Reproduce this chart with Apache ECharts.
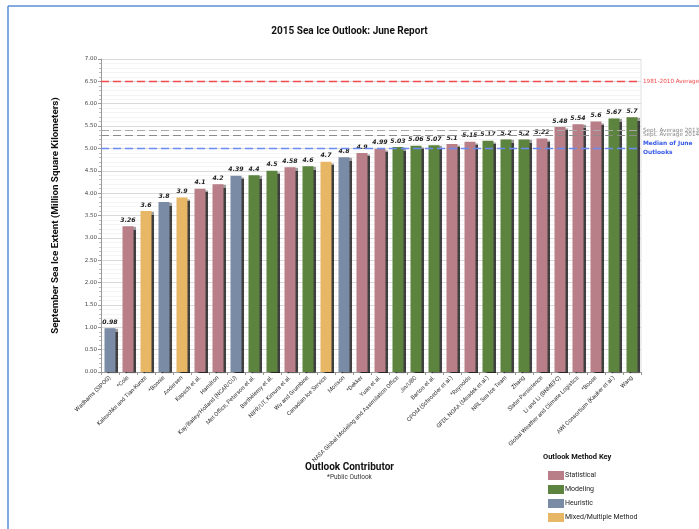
<!DOCTYPE html>
<html>
<head>
<meta charset="utf-8">
<script src="https://cdn.jsdelivr.net/npm/echarts@6/dist/echarts.min.js"></script>
<style>
html,body{margin:0;padding:0;background:#fff;}
#chart{width:699px;height:529px;}
</style>
</head>
<body>
<div id="chart"></div>
<script>
// ---- data ----
const categories = [
  "Wadhams (SIPOG)", "*Cole", "Kaleschke and Tian-Kunze", "*Bonnie", "Andersen",
  "Kapsch et al.", "Hamilton", "Kay/Bailey/Holland (NCAR/CU)", "Met Office, Peterson et al.",
  "Barthélemy et al.", "NIPR/UT, Kimura et al.", "Wu and Grumbine", "Canadian Ice Service",
  "Morison", "*Dekker", "Yuan et al.", "NASA Global Modeling and Assimilation Office",
  "Jin/UBC", "Barton et al.", "CPOM (Schroeder et al.)", "*Reynolds",
  "GFDL NOAA (Msadek et al.)", "NRL Sea Ice Team", "Zhang", "Slater-Persistence",
  "Li and Li (BNMEFC)", "Global Weather and Climate Logistics", "*Boose",
  "AWI Consortium (Kauker et al.)", "Wang"
];
const values = [
  0.98, 3.26, 3.6, 3.8, 3.9, 4.1, 4.2, 4.39, 4.4, 4.5, 4.58, 4.6, 4.7, 4.8, 4.9,
  4.99, 5.03, 5.06, 5.07, 5.1, 5.15, 5.17, 5.2, 5.2, 5.22, 5.48, 5.54, 5.6, 5.67, 5.7
];
// 0 Statistical, 1 Modeling, 2 Heuristic, 3 Mixed/Multiple Method
const methodIndex = [
  2, 0, 3, 2, 3, 0, 0, 2, 1, 1, 0, 1, 3, 2, 0,
  0, 1, 1, 1, 0, 0, 1, 1, 1, 0, 0, 0, 0, 1, 1
];
const methodNames = ["Statistical", "Modeling", "Heuristic", "Mixed/Multiple Method"];
const refValues = [6.5, 5.4, 5.3, 5.0];
const refLabels = ["1981-2010 Average", "Sept. Average 2013", "Sept. Average 2014", "Median of June\nOutlooks"];
const yTicks = [0, 0.5, 1, 1.5, 2, 2.5, 3, 3.5, 4, 4.5, 5, 5.5, 6, 6.5, 7];

// ---- styles ----
const methodColors = ["#b97f88", "#5c843f", "#7a8ba6", "#e8b765"];
const refStyles = [
  {color: "#f24a4a", width: 1.4, label: {color: "#f24a4a", fontWeight: "normal", padding: [0,0,0,0]}},
  {color: "#a8a8a8", width: 1.2, label: {color: "#888", fontWeight: "normal", padding: [0,0,4,0]}},
  {color: "#8c8c8c", width: 1.2, label: {color: "#888", fontWeight: "normal", padding: [7,0,0,0]}},
  {color: "#6a8cf2", width: 1.4, label: {color: "#3658e6", fontWeight: "bold", padding: [9,0,0,0]}}
];

const chart = echarts.init(document.getElementById('chart'));

const markData = refValues.map((v, i) => ({
  yAxis: v,
  lineStyle: {color: refStyles[i].color, width: refStyles[i].width, type: [8, 4]},
  label: Object.assign({
    show: true, position: 'end', formatter: refLabels[i], distance: 2,
    fontSize: i === 3 ? 5.9 : 5.7, fontFamily: 'DejaVu Sans', lineHeight: 9
  }, refStyles[i].label)
}));

const series = methodNames.map((name, m) => ({
  name: name,
  type: 'bar',
  stack: 'all',
  barWidth: 11,
  data: values.map((v, i) => methodIndex[i] === m ? v : '-'),
  itemStyle: {
    color: methodColors[m],
    shadowColor: 'rgba(0,0,0,0.75)',
    shadowOffsetX: 2,
    shadowOffsetY: 1,
    shadowBlur: 1
  },
  label: {
    show: true, position: 'top', distance: 3,
    fontSize: 6.2, fontWeight: 'bold', fontStyle: 'italic',
    fontFamily: 'DejaVu Sans', color: '#222',
    formatter: p => String(p.value)
  },
  markLine: m === 0 ? {symbol: 'none', silent: true, animation: false, data: markData} : undefined,
  z: 3
}));

chart.setOption({
  animation: false,
  backgroundColor: '#fff',
  title: {
    text: '2015 Sea Ice Outlook: June Report',
    left: 'center', top: 21,
    textStyle: {fontSize: 10, fontWeight: 'bold', fontFamily: "Roboto, sans-serif", color: '#111'}
  },
  legend: {
    orient: 'vertical', left: 543, top: 466,
    itemWidth: 16, itemHeight: 9, itemGap: 5,
    icon: 'rect',
    textStyle: {fontSize: 7, fontFamily: "Roboto, sans-serif", color: '#222', padding: [0,0,0,-4]},
    data: methodNames
  },
  grid: {left: 101, right: 58, top: 59, bottom: 157},
  xAxis: {
    type: 'category',
    data: categories,
    axisLine: {lineStyle: {color: '#999'}},
    axisTick: {show: true, length: 3, lineStyle: {color: '#999'}},
    axisLabel: {
      interval: 0, rotate: 45, fontSize: 5.8, color: '#333', margin: 5,
      fontFamily: "Roboto, sans-serif"
    }
  },
  yAxis: {
    type: 'value',
    min: 0, max: 7, interval: 0.5,
    name: 'September Sea Ice Extent (Million Square Kilometers)',
    nameLocation: 'middle', nameGap: 40,
    nameTextStyle: {fontSize: 9.8, fontWeight: 'bold', fontFamily: "Roboto, sans-serif", color: '#111'},
    axisLine: {show: true, lineStyle: {color: '#999'}},
    axisTick: {show: true, length: 3, lineStyle: {color: '#999'}},
    minorTick: {show: true, splitNumber: 5, length: 2, lineStyle: {color: '#bbb'}},
    axisLabel: {
      fontSize: 5.5, color: '#444', margin: 4, fontFamily: 'DejaVu Sans',
      formatter: v => yTicks.indexOf(v) >= 0 ? v.toFixed(2) : ''
    },
    splitLine: {show: true, lineStyle: {color: '#d0d0d0', width: 0.8}},
    minorSplitLine: {show: true, lineStyle: {color: '#ececec', width: 0.6}}
  },
  graphic: [
    {type: 'line', shape: {x1: 8, y1: 6, x2: 699, y2: 6}, style: {stroke: '#5b8fd4', lineWidth: 1.5}},
    {type: 'line', shape: {x1: 8, y1: 6, x2: 8, y2: 529}, style: {stroke: '#5b8fd4', lineWidth: 1.5}},
    {type: 'line', shape: {x1: 641, y1: 59, x2: 641, y2: 372}, style: {stroke: '#e0e0e0', lineWidth: 1}},
    {type: 'text', left: 'center', top: 462, style: {text: 'Outlook Contributor', font: "bold 10px Roboto, sans-serif", fill: '#111'}},
    {type: 'text', left: 'center', top: 474, style: {text: '*Public Outlook', font: "6.5px Roboto, sans-serif", fill: '#333'}},
    {type: 'text', left: 543, top: 453, style: {text: 'Outlook Method Key', font: "bold 7.5px Roboto, sans-serif", fill: '#111'}}
  ],
  series: series
});
</script>
</body>
</html>
